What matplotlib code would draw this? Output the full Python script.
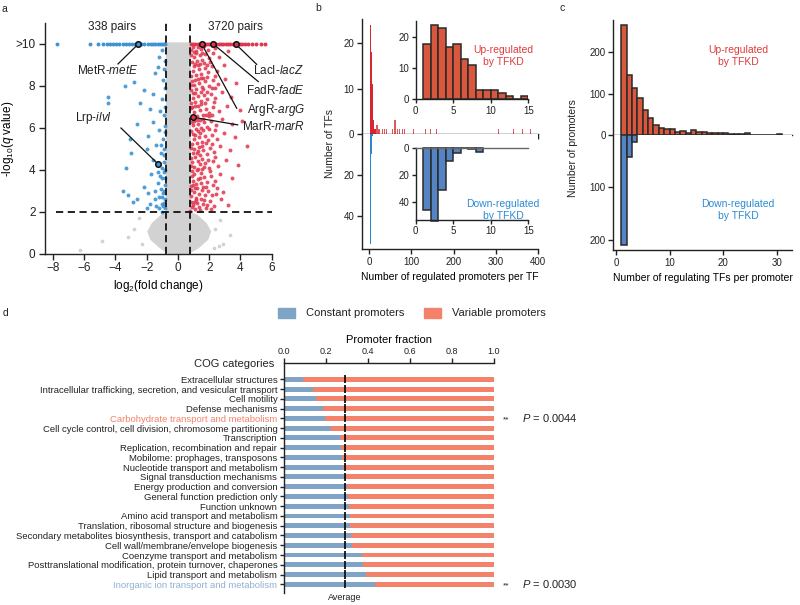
import matplotlib
matplotlib.use('Agg')
import matplotlib.pyplot as plt
import numpy as np
from matplotlib.patches import Patch

plt.rcParams['font.family'] = ['Liberation Sans', 'DejaVu Sans']
plt.rcParams['mathtext.fontset'] = 'custom'
plt.rcParams['mathtext.rm'] = 'Liberation Sans'
plt.rcParams['mathtext.it'] = 'Liberation Sans:italic'
plt.rcParams['axes.linewidth'] = 1.0
plt.rcParams['xtick.major.width'] = 1.0
plt.rcParams['ytick.major.width'] = 1.0
plt.rcParams['text.color'] = '#222222'
plt.rcParams['xtick.color'] = '#222222'
plt.rcParams['ytick.color'] = '#222222'
plt.rcParams['axes.edgecolor'] = '#222222'

# ---------------- Panel a data (volcano) ----------------
blue_top_x = [-7.75, -5.65, -5.1, -4.8, -4.55, -4.35, -4.15, -3.95, -3.75, -3.55, -3.35,
              -3.15, -2.95, -2.75, -2.35, -2.15, -1.95, -1.75, -1.6, -1.45, -1.3, -1.15,
              -1.0, -0.9, -0.82]
blue_points = [(-3.4, 8.0), (-4.5, 7.5), (-4.5, 7.2), (-2.8, 8.2), (-2.2, 7.8), (-1.5, 8.6),
               (-1.2, 9.4), (-1.0, 9.7), (-1.3, 8.9), (-2.4, 7.2), (-1.8, 6.9), (-1.0, 7.4),
               (-0.9, 6.6), (-1.6, 6.3), (-2.6, 6.2), (-3.1, 5.5), (-1.2, 5.9), (-0.95, 5.5),
               (-1.4, 5.2), (-2.0, 5.0), (-3.0, 4.8), (-3.3, 4.1), (-1.1, 4.8), (-0.9, 4.4),
               (-1.6, 4.5), (-1.3, 3.9), (-1.0, 3.6), (-0.85, 3.3), (-1.7, 3.8), (-2.2, 3.2),
               (-3.5, 3.0), (-3.2, 2.8), (-2.6, 2.6), (-1.9, 2.9), (-1.5, 3.0), (-1.2, 2.7),
               (-1.0, 2.4), (-0.85, 2.2), (-1.4, 2.3), (-2.0, 2.2), (-2.9, 2.5), (-1.1, 3.1),
               (-0.95, 2.9), (-0.8, 2.6), (-1.05, 2.0), (-0.9, 5.0), (-1.15, 6.8), (-0.85, 7.9),
               (-1.25, 4.3), (-0.9, 3.9), (-1.5, 2.6), (-1.8, 2.4), (-1.3, 3.4), (-1.1, 5.2),
               (-0.9, 8.8), (-1.6, 7.6), (-1.9, 5.6), (-0.88, 4.7), (-1.0, 4.1), (-1.2, 2.2),
               (-0.82, 9.2), (-0.86, 6.1), (-0.92, 3.0), (-0.83, 4.0), (-1.05, 2.7), (-0.88, 2.45),
               (-0.84, 5.8), (-0.83, 3.6), (-0.95, 2.3), (-1.15, 3.7), (-0.82, 7.0), (-0.98, 8.3)]
red_top_x = [0.82, 0.95, 1.1, 1.25, 1.4, 1.55, 1.7, 1.85, 2.0, 2.15, 2.3, 2.45, 2.6, 2.75,
             2.9, 3.05, 3.2, 3.35, 3.5, 3.65, 3.8, 3.95, 4.1, 4.3, 4.5, 4.75, 5.0, 5.3, 5.6]
red_points = [
    (0.80, 2.05), (0.93, 2.31), (1.08, 2.12), (1.24, 2.44), (1.41, 2.08), (1.57, 2.36), (1.79, 2.18),
    (2.02, 2.52), (2.31, 2.27), (2.76, 2.61), (3.22, 2.35),
    (0.86, 2.74), (1.01, 2.96), (1.18, 2.69), (1.35, 2.88), (1.52, 3.07), (1.70, 2.79), (1.93, 3.01),
    (2.18, 2.83), (2.47, 3.12), (2.91, 2.95),
    (0.82, 3.24), (0.97, 3.49), (1.13, 3.31), (1.29, 3.58), (1.46, 3.38), (1.64, 3.66), (1.86, 3.42),
    (2.09, 3.71), (2.38, 3.47), (2.68, 3.83), (3.45, 3.62),
    (0.88, 3.93), (1.04, 4.16), (1.21, 3.98), (1.38, 4.27), (1.55, 4.05), (1.75, 4.33), (1.98, 4.11),
    (2.24, 4.42), (2.55, 4.19), (3.05, 4.47), (3.85, 4.25),
    (0.81, 4.58), (0.95, 4.82), (1.11, 4.63), (1.27, 4.91), (1.44, 4.71), (1.62, 4.97), (1.83, 4.76),
    (2.06, 5.04), (2.33, 4.84), (2.72, 5.12), (3.31, 4.93), (4.45, 5.16),
    (0.87, 5.23), (1.02, 5.48), (1.19, 5.29), (1.36, 5.56), (1.53, 5.35), (1.72, 5.62), (1.95, 5.41),
    (2.21, 5.69), (2.51, 5.47), (2.95, 5.76), (3.62, 5.55),
    (0.83, 5.88), (0.98, 6.12), (1.15, 5.94), (1.31, 6.21), (1.49, 6.01), (1.67, 6.28), (1.89, 6.06),
    (2.13, 6.35), (2.42, 6.14), (2.82, 6.41), (3.48, 6.19), (4.12, 6.33),
    (0.89, 6.53), (1.05, 6.77), (1.22, 6.58), (1.39, 6.86), (1.57, 6.64), (1.77, 6.92), (2.01, 6.71),
    (2.27, 6.98), (2.61, 6.79), (3.12, 7.04), (3.95, 6.88),
    (0.81, 7.17), (0.96, 7.42), (1.12, 7.23), (1.29, 7.51), (1.46, 7.29), (1.65, 7.57), (1.87, 7.36),
    (2.11, 7.64), (2.40, 7.43), (2.79, 7.71), (3.38, 7.49),
    (0.86, 7.82), (1.01, 8.07), (1.18, 7.88), (1.35, 8.16), (1.53, 7.94), (1.73, 8.22), (1.96, 8.01),
    (2.22, 8.29), (2.55, 8.08), (3.02, 8.35), (3.71, 8.14),
    (0.83, 8.47), (0.99, 8.72), (1.15, 8.53), (1.32, 8.81), (1.50, 8.59), (1.70, 8.87), (1.92, 8.66),
    (2.17, 8.94), (2.49, 8.73), (2.93, 9.01),
    (0.88, 9.12), (1.04, 9.37), (1.21, 9.18), (1.38, 9.46), (1.56, 9.24), (1.76, 9.52), (1.99, 9.31),
    (2.26, 9.59), (2.63, 9.38), (3.18, 9.65),
    (0.82, 9.72), (0.97, 9.88), (1.13, 9.69), (1.30, 9.84), (1.48, 9.75), (1.68, 9.90),
    (0.90, 2.22), (1.15, 2.58), (1.45, 2.64), (0.84, 3.05), (1.10, 3.15), (1.60, 3.21), (0.92, 3.70),
    (1.50, 3.85), (1.25, 4.45), (0.91, 4.40), (1.55, 4.52), (0.85, 5.05), (1.35, 5.10), (0.93, 5.70),
    (1.40, 5.78), (1.20, 6.40), (0.87, 6.30), (1.60, 6.45), (0.92, 7.00), (1.30, 7.05), (0.95, 7.65),
    (1.45, 7.70), (1.10, 8.30), (0.90, 8.25), (1.60, 8.40), (1.00, 8.95), (1.40, 9.05), (1.15, 9.55),
    (0.85, 9.50), (2.05, 3.95), (2.35, 5.90), (2.15, 7.90), (1.85, 9.00), (2.45, 2.85), (2.00, 6.55),
    (1.02, 2.48), (1.32, 2.25), (1.68, 2.58), (1.88, 2.35), (2.12, 2.15), (0.95, 3.28), (1.22, 3.12),
    (1.40, 3.62), (1.78, 3.18), (2.25, 3.30), (1.02, 3.82), (1.30, 4.05), (1.68, 4.12), (1.90, 4.50),
    (2.40, 4.62), (1.02, 5.02), (1.20, 4.82), (1.52, 5.15), (1.80, 5.28), (2.18, 5.22), (1.08, 5.68),
    (1.28, 5.85), (1.62, 5.90), (2.00, 5.95), (1.05, 6.32), (1.42, 6.40), (1.82, 6.62), (2.20, 6.60),
    (1.08, 7.05), (1.48, 7.12), (1.75, 7.20), (2.30, 7.25), (1.12, 7.68), (1.62, 7.88), (1.85, 7.70),
    (2.38, 7.90), (1.25, 8.35), (1.45, 8.38), (1.85, 8.45), (2.35, 8.50), (1.10, 9.05), (1.28, 9.02),
    (1.65, 9.10), (2.08, 9.15), (1.02, 9.62), (1.55, 9.58), (1.90, 9.70), (2.40, 9.80), (0.84, 6.95),
    (0.82, 8.05), (0.85, 4.20), (0.83, 2.50)]
grey_env_y = [0.0, 0.3, 0.7, 1.1, 1.5, 1.9, 2.0, 10.1]
grey_env_left = [-0.6, -1.2, -1.8, -2.0, -1.7, -1.1, -0.8, -0.8]
grey_env_right = [0.6, 1.3, 1.9, 2.1, 1.8, 1.2, 0.8, 0.8]
grey_points = [(-6.3, 0.2), (-4.85, 0.6), (2.3, 0.3), (2.6, 0.4), (2.9, 0.5), (-3.2, 0.8),
               (-2.8, 1.2), (3.3, 0.9), (-2.5, 1.7), (2.7, 1.6), (-2.3, 0.5), (2.4, 1.2)]
fc_threshold = 0.77
q_threshold = 2
pair_labels = ['338 pairs', '3720 pairs']
hl_names = ['MetR-$\\it{metE}$', 'Lrp-$\\it{ilvI}$', 'LacI-$\\it{lacZ}$',
            'FadR-$\\it{fadE}$', 'ArgR-$\\it{argG}$', 'MarR-$\\it{marR}$']
hl_x = [-2.54, -1.28, 3.69, 2.26, 1.52, 0.98]
hl_y = [10.0, 4.29, 10.0, 10.0, 10.0, 6.51]

# ---------------- Panel b data ----------------
tf_up_bins = [1, 2, 3, 4, 5, 6, 7, 8, 9, 10, 11, 12, 13, 14]
tf_up_counts = [18, 24, 23, 17, 18, 13, 11, 3, 3, 3, 2, 1, 0, 1]
tf_up_extra_bins = [16, 17, 18, 19, 20, 22, 24, 30, 36, 40, 55, 58, 60, 62, 65, 71, 77, 83,
                    104, 132, 144, 158, 305, 341, 361, 381]
tf_up_extra_counts = [2, 1, 2, 1, 1, 1, 1, 1, 1, 1, 1, 2, 3, 2, 1, 1, 1, 1,
                      1, 1, 1, 1, 1, 1, 1, 1]
tf_down_bins = [1, 2, 3, 4, 5, 6, 7, 8]
tf_down_counts = [46, 54, 31, 10, 4, 0, 1, 3]

# ---------------- Panel c data ----------------
prom_up_bins = list(range(1, 31))
prom_up_counts = [266, 145, 114, 89, 60, 42, 25, 18, 15, 15, 8, 10, 5, 11, 8, 8, 6, 6, 5, 5,
                  2, 2, 2, 4, 1, 1, 1, 1, 0, 3]
prom_down_bins = [1, 2, 3]
prom_down_counts = [210, 43, 13]

# ---------------- Panel d data ----------------
cog_categories = ['Extracellular structures',
                  'Intracellular trafficking, secretion, and vesicular transport',
                  'Cell motility', 'Defense mechanisms',
                  'Carbohydrate transport and metabolism',
                  'Cell cycle control, cell division, chromosome partitioning',
                  'Transcription', 'Replication, recombination and repair',
                  'Mobilome: prophages, transposons', 'Nucleotide transport and metabolism',
                  'Signal transduction mechanisms', 'Energy production and conversion',
                  'General function prediction only', 'Function unknown',
                  'Amino acid transport and metabolism',
                  'Translation, ribosomal structure and biogenesis',
                  'Secondary metabolites biosynthesis, transport and catabolism',
                  'Cell wall/membrane/envelope biogenesis',
                  'Coenzyme transport and metabolism',
                  'Posttranslational modification, protein turnover, chaperones',
                  'Lipid transport and metabolism',
                  'Inorganic ion transport and metabolism']
constant_frac = [0.091, 0.139, 0.151, 0.186, 0.196, 0.221, 0.266, 0.271, 0.277, 0.279, 0.293,
                 0.301, 0.303, 0.311, 0.315, 0.315, 0.318, 0.325, 0.370, 0.377, 0.390, 0.433]
average_frac = 0.29
sig_rows = ['Carbohydrate transport and metabolism', 'Inorganic ion transport and metabolism']
sig_p = ['0.0044', '0.0030']

# ---------------- Figure ----------------
W, H = 800, 605
fig = plt.figure(figsize=(8, 6.05), dpi=100)

def px_axes(x0, y0, x1, y1):
    return fig.add_axes([x0 / W, 1 - y1 / H, (x1 - x0) / W, (y1 - y0) / H])

BLUE_PT = '#3d93d3'
RED_PT = '#e0354e'
GREY_PT = '#d2d2d2'

# Panel a
ax = px_axes(45.2, 23, 271.7, 254)
ax.fill_betweenx(grey_env_y, grey_env_left, grey_env_right, color=GREY_PT, lw=0, zorder=1)
gx, gy = zip(*grey_points)
ax.scatter(gx, gy, s=7, color=GREY_PT, lw=0, zorder=1)
bx, by = zip(*blue_points)
ax.scatter(bx, by, s=8, color=BLUE_PT, lw=0, alpha=0.9, zorder=2)
ax.scatter(blue_top_x, [10] * len(blue_top_x), s=8, color=BLUE_PT, lw=0, zorder=2)
rx, ry = zip(*red_points)
ax.scatter(rx, ry, s=8, color=RED_PT, lw=0, alpha=0.85, zorder=2)
ax.scatter(red_top_x, [10] * len(red_top_x), s=8, color=RED_PT, lw=0, zorder=2)
ax.plot([-fc_threshold] * 2, [0, 11], ls=(0, (4, 2.5)), color='#111111', lw=1.3, zorder=3)
ax.plot([fc_threshold] * 2, [0, 11], ls=(0, (4, 2.5)), color='#111111', lw=1.3, zorder=3)
ax.plot([-7.8, 6.0], [q_threshold] * 2, ls=(0, (4, 2.5)), color='#111111', lw=1.3, zorder=3)
hl_colors = [BLUE_PT, BLUE_PT, RED_PT, RED_PT, RED_PT, RED_PT]
text_pos = [(-4.5, 8.72, 'center'), (-5.4, 6.5, 'center'), (4.8, 8.72, 'left'),
            (4.33, 7.78, 'left'), (4.4, 6.86, 'left'), (4.08, 6.05, 'left')]
line_end = [(-3.84, 9.05), (-3.65, 6.0), (5.04, 9.03), (5.14, 8.21), (3.76, 6.94), (3.82, 6.15)]
for name, x, y, c, tp, le in zip(hl_names, hl_x, hl_y, hl_colors, text_pos, line_end):
    ax.plot([x, le[0]], [y, le[1]], color='#111111', lw=0.9, zorder=4, clip_on=False)
    ax.scatter([x], [y], s=16, facecolor=c, edgecolor='#111111', lw=1.1, zorder=5)
    ax.text(tp[0], tp[1], name, ha=tp[2], va='center', fontsize=8.5, clip_on=False)
ax.text(-4.24, 10.8, pair_labels[0], ha='center', va='center', fontsize=8.5)
ax.text(3.65, 10.8, pair_labels[1], ha='center', va='center', fontsize=8.5)
ax.set_xlim(-8.5, 6.0)
ax.set_ylim(0, 11)
ax.set_xticks([-8, -6, -4, -2, 0, 2, 4, 6])
ax.set_yticks([0, 2, 4, 6, 8, 10])
ax.set_yticklabels(['0', '2', '4', '6', '8', '>10'])
ax.tick_params(labelsize=8.5, length=4, pad=2)
ax.tick_params(axis='y', pad=3)
ax.spines['top'].set_visible(False)
ax.spines['right'].set_visible(False)
ax.set_xlabel('log$_2$(fold change)', fontsize=8.5, labelpad=3)
ax.set_ylabel('-log$_{10}$($\\it{q}$ value)', fontsize=8.5)
ax.yaxis.set_label_coords(-0.128, 0.5)

# Panel b main
RED_BAR = '#d9573c'
BLUE_BAR = '#5584c4'
axu = px_axes(362, 19, 538, 134)
axd = px_axes(362, 134, 538, 249)
axu.bar(tf_up_bins, tf_up_counts, width=1.6, align='edge', color='#d6262f', lw=0)
axu.bar(tf_up_extra_bins, tf_up_extra_counts, width=2.6, align='edge', color='#e0585c', lw=0)
axd.bar(tf_down_bins, tf_down_counts, width=1.6, align='edge', color='#2f86cf', lw=0)
for a in (axu, axd):
    a.set_xlim(-17, 400)
    a.spines['top'].set_visible(False)
    a.spines['right'].set_visible(False)
    a.set_xticks([0, 100, 200, 300, 400])
    a.tick_params(labelsize=7, length=3.5, pad=2)
axu.set_ylim(0, 25.3)
axu.set_yticks([0, 10, 20])
axu.tick_params(axis='x', labelbottom=False)
axd.set_ylim(56.4, 0)
axd.set_yticks([20, 40])
axd.set_xlabel('Number of regulated promoters per TF', fontsize=7.5, labelpad=4)
fig.text(330 / W, 1 - 144 / H, 'Number of TFs', rotation=90, ha='center', va='center', fontsize=7.5)

# Panel b insets
iu = px_axes(415.7, 20.7, 528.3, 99.3)
iu.bar(tf_up_bins, tf_up_counts, width=1, align='edge', color=RED_BAR, edgecolor='#2a2a2a', lw=1.1)
iu.set_xlim(0, 15)
iu.set_ylim(0, 25.4)
iu.set_xticks([0, 5, 10, 15])
iu.set_yticks([0, 10, 20])
iu.spines['top'].set_visible(False)
iu.spines['right'].set_visible(False)
iu.tick_params(labelsize=7, length=3, pad=1.5)
idn = px_axes(415.7, 147.7, 528.3, 220)
idn.bar(tf_down_bins, tf_down_counts, width=1, align='edge', color=BLUE_BAR, edgecolor='#2a2a2a', lw=1.1,
        clip_on=False)
idn.set_xlim(0, 15)
idn.set_ylim(53, 0)
idn.set_xticks([0, 5, 10, 15])
idn.set_yticks([0, 20, 40])
idn.spines['right'].set_visible(False)
idn.spines['top'].set_color('#666666')
idn.tick_params(labelsize=7, length=3, pad=1.5)
fig.text(503 / W, 1 - 56 / H, 'Up-regulated\nby TFKD', ha='center', va='center', fontsize=7.5,
         color='#e03b3b', linespacing=1.15)
fig.text(503 / W, 1 - 210 / H, 'Down-regulated\nby TFKD', ha='center', va='center', fontsize=7.5,
         color='#2a8bd6', linespacing=1.15)

# Panel c
cu = px_axes(613.3, 20, 791.7, 135)
cd = px_axes(613.3, 135, 791.7, 250)
cu.bar(prom_up_bins, prom_up_counts, width=1, align='edge', color=RED_BAR, edgecolor='#2a2a2a', lw=1.1)
cd.bar(prom_down_bins, prom_down_counts, width=1, align='edge', color=BLUE_BAR, edgecolor='#2a2a2a',
       lw=1.1)
for a in (cu, cd):
    a.set_xlim(-0.5, 32.8)
    a.spines['top'].set_visible(False)
    a.spines['right'].set_visible(False)
    a.set_xticks([0, 10, 20, 30])
    a.tick_params(labelsize=7, length=3.5, pad=2)
cu.set_ylim(0, 278)
cu.set_yticks([0, 100, 200])
cu.tick_params(axis='x', labelbottom=False)
cd.set_ylim(220, 0)
cd.set_yticks([100, 200])
cd.set_xlabel('Number of regulating TFs per promoter', fontsize=7.5, labelpad=4)
fig.text(573 / W, 1 - 148 / H, 'Number of promoters', rotation=90, ha='center', va='center', fontsize=7.5)
fig.text(738 / W, 1 - 56 / H, 'Up-regulated\nby TFKD', ha='center', va='center', fontsize=7.5,
         color='#e03b3b', linespacing=1.15)
fig.text(738 / W, 1 - 210 / H, 'Down-regulated\nby TFKD', ha='center', va='center', fontsize=7.5,
         color='#2a8bd6', linespacing=1.15)

# Panel d
C_CONST = '#7fa4c6'
C_VAR = '#f4826a'
dax = px_axes(284.3, 363.3, 493.7, 592.7)
rows = np.arange(len(cog_categories))
var_frac = [1 - c for c in constant_frac]
dax.barh(rows, constant_frac, height=0.5, color=C_CONST, lw=0)
dax.barh(rows, var_frac, left=constant_frac, height=0.5, color=C_VAR, lw=0)
dax.vlines([average_frac] * len(rows), rows - 0.42, rows + 0.42, color='#111111', lw=1.3)
dax.set_xlim(0, 1)
dax.set_ylim(21.86, -1.64)
dax.set_yticks(rows)
dax.set_yticklabels(cog_categories)
dax.xaxis.tick_top()
dax.xaxis.set_label_position('top')
dax.set_xticks([0, 0.2, 0.4, 0.6, 0.8, 1.0])
dax.set_xticklabels(['0.0', '0.2', '0.4', '0.6', '0.8', '1.0'])
dax.tick_params(axis='x', labelsize=6.5, length=3.5, pad=1.5)
dax.tick_params(axis='y', labelsize=6.8, length=3, pad=2)
dax.spines['bottom'].set_visible(False)
dax.spines['right'].set_visible(False)
dax.set_xlabel('Promoter fraction', fontsize=8, labelpad=3)
for lab in dax.get_yticklabels():
    if lab.get_text() == sig_rows[0]:
        lab.set_color(C_VAR)
    elif lab.get_text() == sig_rows[1]:
        lab.set_color('#8fb0d2')
dax.text(-0.049, -1.54, 'COG categories', ha='right', va='center', fontsize=8, clip_on=False)
dax.text(average_frac, 22.4, 'Average', ha='center', va='center', fontsize=6.5, clip_on=False)
for name, p in zip(sig_rows, sig_p):
    r = cog_categories.index(name)
    dax.text(1.058, r + 0.15, '**', ha='center', va='center', fontsize=6, clip_on=False)
    dax.text(1.134, r, '$\\it{P}$ = ' + p, ha='left', va='center', fontsize=8, clip_on=False)
fig.legend(handles=[Patch(color=C_CONST), Patch(color=C_VAR)],
           labels=['Constant promoters', 'Variable promoters'], loc='center',
           bbox_to_anchor=(0.515, 1 - 313 / H), ncol=2, frameon=False, fontsize=8,
           handlelength=1.5, handleheight=1.0, handletextpad=1.0, columnspacing=1.8)

# Panel letters
for t, x, y in [('a', 2, 9), ('b', 315, 8), ('c', 560, 8), ('d', 3, 313)]:
    fig.text(x / W, 1 - y / H, t, ha='left', va='center', fontsize=7.5)

fig.savefig('out.png', dpi=100)
